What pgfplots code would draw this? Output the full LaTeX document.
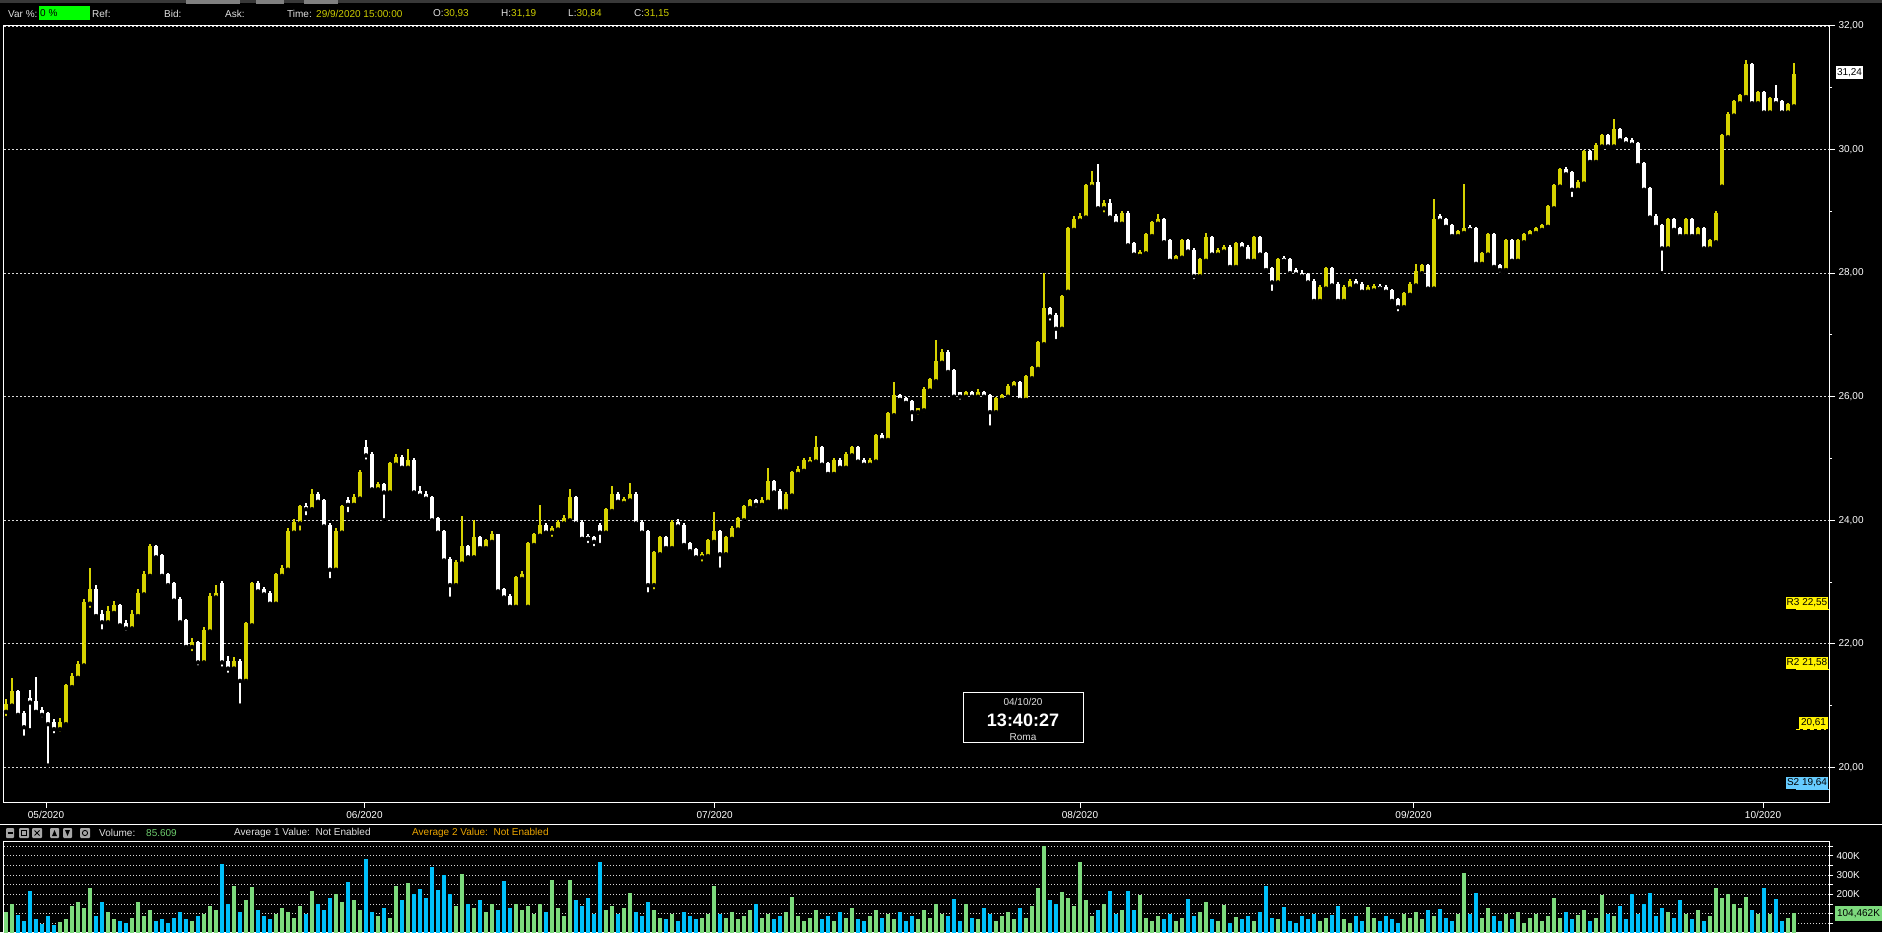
\documentclass[border=0pt]{standalone}
\usepackage{pgfplots}
\pgfplotsset{compat=1.18}
\usepackage{pgfplotstable}
\usepackage{fontspec}
\setmainfont{Liberation Sans}
\definecolor{cyel}{RGB}{214,210,0}
\definecolor{vgreen}{RGB}{125,218,125}
\definecolor{vcyan}{RGB}{0,192,250}
\definecolor{lblue}{RGB}{102,204,255}
\definecolor{hdryel}{RGB}{205,205,0}
\definecolor{avgtwo}{RGB}{235,165,0}
\definecolor{vtxt}{RGB}{110,205,110}
\definecolor{ltxt}{RGB}{225,225,225}
\pgfplotstableread{
x o h l c v
6 20.90 21.10 20.80 21.00 110
12 21.00 21.45 20.95 21.20 150
18 21.20 21.25 20.80 20.85 95
24 20.85 20.92 20.48 20.65 60
30 21.10 21.25 20.60 21.05 218
36 21.05 21.46 20.85 20.90 70
42 20.90 20.98 20.78 20.85 45
48 20.85 20.90 20.03 20.70 90
54 20.70 20.78 20.52 20.62 40
60 20.62 20.80 20.55 20.70 55
66 20.70 21.35 20.65 21.30 75
72 21.30 21.52 21.25 21.45 140
78 21.45 21.72 21.40 21.65 160
84 21.65 22.72 21.60 22.65 130
90 22.65 23.22 22.55 22.85 233
96 22.85 22.95 22.40 22.45 90
102 22.45 22.55 22.20 22.35 160
108 22.35 22.62 22.30 22.50 110
114 22.50 22.70 22.45 22.60 70
120 22.60 22.65 22.25 22.30 60
126 22.30 22.38 22.18 22.25 50
132 22.25 22.55 22.20 22.45 80
138 22.45 22.88 22.40 22.80 160
144 22.80 23.18 22.75 23.10 90
150 23.10 23.62 23.05 23.55 120
156 23.55 23.60 23.35 23.40 60
162 23.40 23.45 23.05 23.10 70
168 23.10 23.15 22.90 22.95 50
174 22.95 23.00 22.65 22.70 80
180 22.70 22.75 22.30 22.35 110
186 22.35 22.40 21.90 21.95 70
192 21.95 22.10 21.85 22.00 60
198 22.00 22.05 21.62 21.70 90
204 21.70 22.28 21.65 22.20 100
210 22.20 22.82 22.15 22.75 140
216 22.75 22.95 22.70 22.80 120
222 22.95 23.02 21.60 21.70 357
228 21.70 21.80 21.50 21.60 150
234 21.60 21.78 21.55 21.70 243
240 21.70 21.75 21.00 21.40 110
246 21.40 22.35 21.35 22.30 170
252 22.30 23.00 22.25 22.95 240
258 22.95 23.02 22.80 22.85 120
264 22.85 22.92 22.75 22.80 90
270 22.80 22.85 22.60 22.65 70
276 22.65 23.15 22.60 23.10 100
282 23.10 23.28 23.05 23.20 130
288 23.20 23.88 23.15 23.80 110
294 23.80 24.02 23.75 23.95 80
300 23.95 24.25 23.80 24.20 140
306 24.20 24.28 24.05 24.18 100
312 24.18 24.50 24.15 24.40 218
318 24.40 24.45 24.25 24.30 150
324 24.30 24.35 23.85 23.90 120
330 23.90 23.95 23.03 23.20 180
336 23.20 23.88 23.15 23.80 200
342 23.80 24.25 23.75 24.20 160
348 24.30 24.38 24.10 24.25 263
354 24.25 24.42 24.20 24.35 170
360 24.35 24.82 24.30 24.75 120
366 25.15 25.30 24.95 25.05 383
372 25.05 25.10 24.45 24.50 110
378 24.50 24.62 24.45 24.55 90
384 24.55 24.60 24.00 24.45 130
390 24.45 24.95 24.40 24.90 80
396 24.90 25.08 24.85 25.00 243
402 25.00 25.05 24.80 24.85 170
408 24.85 25.15 24.80 24.95 259
414 24.95 25.00 24.40 24.45 200
420 24.45 24.55 24.35 24.40 230
426 24.40 24.48 24.30 24.35 180
432 24.35 24.40 23.95 24.00 342
438 24.00 24.05 23.75 23.80 220
444 23.80 23.85 23.30 23.35 300
450 23.35 23.40 22.73 22.95 200
456 22.95 23.35 22.90 23.30 140
462 23.30 24.07 23.25 23.55 305
468 23.55 23.60 23.35 23.40 150
474 23.40 24.00 23.35 23.70 130
480 23.70 23.75 23.50 23.55 170
486 23.55 23.70 23.50 23.65 110
492 23.65 23.82 23.60 23.75 150
498 23.75 23.78 22.80 22.85 120
504 22.85 22.90 22.70 22.75 268
510 22.75 22.80 22.54 22.60 130
516 22.60 23.10 22.55 23.05 150
522 23.05 23.18 23.00 23.10 120
528 22.60 23.65 22.55 23.60 140
534 23.60 23.80 23.55 23.75 100
540 23.75 24.25 23.70 23.90 150
546 23.90 23.95 23.75 23.80 110
552 23.80 23.90 23.70 23.85 276
558 23.85 24.00 23.80 23.95 130
564 23.95 24.08 23.90 24.00 90
570 24.00 24.50 23.95 24.35 272
576 24.35 24.40 23.90 23.95 170
582 23.95 24.00 23.65 23.70 140
588 23.72 23.78 23.60 23.70 180
594 23.70 23.75 23.55 23.65 100
600 23.90 23.95 23.60 23.80 368
606 23.80 24.20 23.75 24.15 120
612 24.15 24.55 24.10 24.40 140
618 24.40 24.45 24.25 24.30 100
624 24.28 24.38 24.22 24.32 130
630 24.32 24.60 24.28 24.40 207
636 24.40 24.45 23.90 23.95 110
642 23.95 24.00 23.75 23.80 90
648 23.80 23.85 22.80 22.95 160
654 22.95 23.50 22.85 23.45 120
660 23.45 23.75 23.40 23.70 80
666 23.70 23.75 23.50 23.55 70
672 23.55 24.00 23.50 23.95 100
678 23.95 24.02 23.85 23.90 60
684 23.90 23.95 23.55 23.60 110
690 23.60 23.65 23.45 23.50 90
696 23.50 23.55 23.35 23.40 70
702 23.40 23.48 23.30 23.42 80
708 23.42 23.70 23.38 23.65 100
714 23.65 24.14 23.60 23.80 245
720 23.80 23.85 23.20 23.45 100
726 23.45 23.75 23.40 23.70 80
732 23.70 23.90 23.65 23.85 110
738 23.85 24.05 23.80 24.00 70
744 24.00 24.25 23.95 24.20 90
750 24.20 24.35 24.15 24.30 120
756 24.30 24.35 24.18 24.25 150
762 24.25 24.38 24.20 24.30 80
768 24.30 24.85 24.25 24.60 100
774 24.60 24.65 24.40 24.45 70
780 24.45 24.50 24.10 24.15 90
786 24.15 24.45 24.10 24.40 110
792 24.40 24.80 24.35 24.75 188
798 24.75 24.88 24.70 24.80 90
804 24.80 25.00 24.75 24.95 60
810 24.92 25.02 24.88 24.95 80
816 24.95 25.36 24.90 25.15 120
822 25.15 25.20 24.85 24.90 70
828 24.90 24.95 24.70 24.75 90
834 24.75 25.00 24.70 24.95 60
840 24.95 25.00 24.80 24.85 110
846 24.85 25.10 24.80 25.05 80
852 25.05 25.20 25.00 25.15 130
858 25.15 25.20 24.90 24.95 70
864 24.95 25.00 24.85 24.90 60
870 24.90 25.00 24.85 24.95 90
876 24.95 25.40 24.90 25.35 120
882 25.35 25.42 25.25 25.30 80
888 25.30 25.75 25.25 25.70 100
894 25.70 26.23 25.65 26.00 70
900 26.00 26.05 25.90 25.95 110
906 25.95 26.00 25.85 25.90 60
912 25.90 25.95 25.57 25.75 90
918 25.75 25.82 25.68 25.78 70
924 25.78 26.15 25.72 26.10 120
930 26.10 26.30 26.05 26.25 80
936 26.25 26.92 26.20 26.55 150
942 26.55 26.78 26.50 26.70 100
948 26.70 26.75 26.35 26.40 90
954 26.40 26.45 25.95 26.00 176
960 26.05 26.08 25.92 26.00 60
966 26.00 26.10 25.95 26.05 150
972 26.05 26.10 25.95 26.00 80
978 26.00 26.12 25.95 26.05 70
984 26.05 26.10 25.95 26.00 130
990 26.00 26.05 25.50 25.75 100
996 25.75 26.00 25.70 25.95 60
1002 25.95 26.05 25.90 26.00 90
1008 26.00 26.20 25.95 26.15 110
1014 26.15 26.25 26.10 26.20 70
1020 26.20 26.25 25.90 25.95 130
1026 25.95 26.35 25.90 26.30 80
1032 26.30 26.50 26.25 26.45 140
1038 26.45 26.90 26.40 26.85 233
1044 26.85 28.00 26.80 27.40 451
1050 27.40 27.45 27.20 27.30 170
1056 27.30 27.35 26.90 27.10 150
1062 27.10 27.65 27.05 27.60 213
1068 27.70 28.75 27.65 28.70 180
1074 28.70 28.92 28.65 28.85 140
1080 28.85 28.98 28.80 28.90 368
1086 28.90 29.45 28.85 29.40 170
1092 29.40 29.65 29.35 29.45 90
1098 29.45 29.76 29.00 29.05 120
1104 29.05 29.18 28.95 29.10 150
1110 29.10 29.20 28.85 28.90 218
1116 28.90 28.95 28.75 28.80 100
1122 28.80 29.00 28.75 28.95 120
1128 28.95 29.00 28.40 28.45 218
1134 28.45 28.50 28.25 28.30 120
1140 28.28 28.38 28.22 28.32 197
1146 28.32 28.65 28.28 28.60 80
1152 28.60 28.85 28.55 28.80 60
1158 28.80 28.95 28.75 28.85 90
1164 28.85 28.90 28.45 28.50 70
1170 28.50 28.55 28.15 28.20 100
1176 28.20 28.30 28.15 28.25 60
1182 28.25 28.55 28.20 28.50 80
1188 28.50 28.55 28.30 28.35 176
1194 28.35 28.40 27.87 27.95 90
1200 27.95 28.25 27.90 28.20 110
1206 28.20 28.65 28.15 28.55 162
1212 28.55 28.60 28.25 28.30 70
1218 28.30 28.40 28.25 28.35 60
1224 28.35 28.45 28.30 28.40 145
1230 28.40 28.45 28.05 28.10 50
1236 28.10 28.50 28.05 28.45 85
1242 28.45 28.50 28.35 28.40 70
1248 28.40 28.45 28.15 28.20 90
1254 28.20 28.60 28.15 28.55 60
1260 28.55 28.60 28.25 28.30 110
1266 28.30 28.35 28.00 28.05 245
1272 28.05 28.10 27.68 27.85 80
1278 27.85 28.25 27.80 28.20 70
1284 28.22 28.28 28.15 28.20 135
1290 28.20 28.25 27.95 28.00 60
1296 28.02 28.08 27.95 27.98 50
1302 27.98 28.05 27.90 27.95 90
1308 27.95 28.00 27.80 27.85 70
1314 27.85 27.90 27.50 27.55 100
1320 27.55 27.80 27.50 27.75 60
1326 27.75 28.10 27.70 28.05 80
1332 28.05 28.10 27.75 27.80 95
1338 27.80 27.85 27.50 27.55 140
1344 27.55 27.80 27.50 27.75 70
1350 27.75 27.90 27.70 27.85 50
1356 27.85 27.90 27.75 27.80 90
1362 27.80 27.85 27.65 27.70 60
1368 27.70 27.80 27.65 27.75 135
1374 27.72 27.82 27.70 27.76 80
1380 27.76 27.82 27.70 27.75 60
1386 27.75 27.80 27.65 27.70 90
1392 27.70 27.75 27.50 27.55 70
1398 27.55 27.60 27.35 27.45 50
1404 27.45 27.70 27.40 27.65 100
1410 27.65 27.85 27.60 27.80 80
1416 27.80 28.15 27.75 28.00 110
1422 28.00 28.15 27.95 28.10 70
1428 28.10 28.15 27.70 27.75 120
1434 27.75 29.20 27.70 28.85 90
1440 28.90 28.95 28.80 28.85 125
1446 28.85 28.90 28.70 28.75 80
1452 28.75 28.80 28.55 28.60 60
1458 28.60 28.70 28.55 28.65 100
1464 28.65 29.45 28.60 28.70 312
1470 28.72 28.78 28.65 28.70 100
1476 28.70 28.75 28.10 28.15 207
1482 28.15 28.35 28.10 28.30 80
1488 28.30 28.65 28.25 28.60 130
1494 28.60 28.65 28.05 28.10 90
1500 28.10 28.15 27.98 28.05 60
1506 28.05 28.55 28.00 28.50 100
1512 28.50 28.55 28.15 28.20 70
1518 28.20 28.55 28.15 28.50 110
1524 28.50 28.65 28.45 28.60 50
1530 28.60 28.70 28.55 28.65 80
1536 28.65 28.75 28.60 28.70 100
1542 28.70 28.80 28.65 28.75 60
1548 28.75 29.10 28.70 29.05 90
1554 29.05 29.45 29.00 29.40 179
1560 29.40 29.70 29.35 29.65 80
1566 29.65 29.72 29.55 29.60 110
1572 29.60 29.65 29.20 29.35 70
1578 29.35 29.50 29.30 29.45 95
1584 29.45 30.00 29.40 29.95 120
1590 29.95 30.00 29.75 29.80 60
1596 29.80 30.10 29.75 30.05 80
1602 30.05 30.25 30.00 30.20 197
1608 30.20 30.25 30.00 30.05 100
1614 30.05 30.50 30.00 30.30 90
1620 30.30 30.35 30.10 30.15 140
1626 30.15 30.20 30.05 30.10 70
1632 30.12 30.18 30.02 30.08 204
1638 30.08 30.12 29.70 29.75 100
1644 29.75 29.80 29.30 29.35 150
1650 29.35 29.40 28.85 28.90 207
1656 28.90 28.95 28.70 28.75 90
1662 28.75 28.80 28.00 28.40 130
1668 28.40 28.90 28.35 28.85 110
1674 28.85 28.90 28.65 28.70 80
1680 28.70 28.75 28.55 28.60 169
1686 28.60 28.90 28.55 28.85 100
1692 28.85 28.90 28.55 28.60 70
1698 28.60 28.75 28.55 28.70 120
1704 28.70 28.75 28.35 28.40 60
1710 28.40 28.55 28.35 28.50 90
1716 28.50 29.00 28.45 28.95 233
1722 29.40 30.25 29.35 30.20 180
1728 30.20 30.60 30.15 30.55 204
1734 30.55 30.80 30.50 30.75 150
1740 30.75 30.90 30.70 30.85 130
1746 30.85 31.45 30.80 31.35 186
1752 31.35 31.40 30.70 30.75 120
1758 30.75 30.95 30.70 30.90 100
1764 30.90 30.95 30.55 30.60 233
1770 30.60 30.85 30.55 30.80 100
1776 30.80 31.05 30.70 30.75 176
1782 30.75 30.80 30.55 30.60 60
1788 30.60 30.75 30.55 30.70 80
1794 30.70 31.40 30.65 31.20 104
}\candles
\begin{document}
\begin{tikzpicture}[font=\fontsize{10}{12}\selectfont]
\useasboundingbox (0,0) rectangle (1882pt,932pt);
\fill[black] (0,0) rectangle (1882pt,932pt);

% ---------- price panel ----------
\begin{axis}[
  at={(4pt,130pt)}, anchor=south west,
  scale only axis, width=1825pt, height=776pt,
  xmin=4, xmax=1829, ymin=19.44, ymax=32,
  axis line style={white, line width=1pt},
  xtick={46,364.5,714.7,1080,1413.5,1763},
  xticklabels={05/2020,06/2020,07/2020,08/2020,09/2020,10/2020},
  ytick={20,22,...,32}, minor ytick={21,23,...,31},
  xtick pos=left, ytick pos=right, yticklabel pos=right,
  tick align=outside, major tick length=6pt, minor tick length=3pt,
  tick style={white, line width=1pt},
  ymajorgrids,
  major grid style={white!85!black, dash pattern=on 2pt off 2pt, line width=0.8pt},
  ticklabel style={text=white, font=\fontsize{10}{12}\selectfont},
  /pgf/number format/fixed, /pgf/number format/fixed zerofill,
  /pgf/number format/precision=2, /pgf/number format/use comma,
  /pgf/number format/assume math mode=true,
]
% down candles (white)
\addplot[only marks, mark=none, error bars/.cd, y dir=plus, y explicit, error mark=none,
  error bar style={draw=white, line width=1.4pt}]
  table[x expr={\thisrow{c}<\thisrow{o} ? \thisrow{x} : nan}, y=l,
        y error expr={\thisrow{h}-\thisrow{l}}] {\candles};
\addplot[only marks, mark=none, error bars/.cd, y dir=plus, y explicit, error mark=none,
  error bar style={draw=white, line width=4.6pt}]
  table[x expr={\thisrow{c}<\thisrow{o} ? \thisrow{x} : nan}, y=c,
        y error expr={\thisrow{o}-\thisrow{c}+0.03}] {\candles};
% up candles (yellow)
\addplot[only marks, mark=none, error bars/.cd, y dir=plus, y explicit, error mark=none,
  error bar style={draw=cyel, line width=1.4pt}]
  table[x expr={\thisrow{c}<\thisrow{o} ? nan : \thisrow{x}}, y=l,
        y error expr={\thisrow{h}-\thisrow{l}}] {\candles};
\addplot[only marks, mark=none, error bars/.cd, y dir=plus, y explicit, error mark=none,
  error bar style={draw=cyel, line width=4.6pt}]
  table[x expr={\thisrow{c}<\thisrow{o} ? nan : \thisrow{x}}, y=o,
        y error expr={\thisrow{c}-\thisrow{o}+0.03}] {\candles};
\end{axis}

% ---------- volume panel ----------
\begin{axis}[
  at={(4pt,-1pt)}, anchor=south west,
  scale only axis, width=1825pt, height=91pt,
  xmin=4, xmax=1829, ymin=0, ymax=471,
  axis line style={white, line width=1pt},
  xtick=\empty,
  ytick={50,100,...,450}, yticklabels={,,,200K,,300K,,400K,},
  ytick pos=right, yticklabel pos=right,
  tick align=outside, major tick length=4pt,
  tick style={white, line width=1pt},
  ymajorgrids,
  major grid style={white!85!black, dash pattern=on 1pt off 2pt, line width=0.7pt},
  ticklabel style={text=white, font=\fontsize{10}{12}\selectfont},
]
\addplot[ycomb, draw=vgreen, line width=4.4pt]
  table[x expr={\thisrow{c}<\thisrow{o} ? nan : \thisrow{x}}, y=v] {\candles};
\addplot[ycomb, draw=vcyan, line width=4.4pt]
  table[x expr={\thisrow{c}<\thisrow{o} ? \thisrow{x} : nan}, y=v] {\candles};
\end{axis}

% ---------- decorations (reference pixel coordinates, y down) ----------
\begin{scope}[shift={(0pt,932pt)}, x=1pt, y=-1pt]
  % solid top border of the price panel
  \draw[white, line width=1pt] (4,26) -- (1829,26);
  % top strip and tabs
  \fill[black!78] (0,0) rectangle (1882,3);
  \fill[black!50] (186,0) rectangle (240,4);
  \fill[black!50] (256,0) rectangle (284,4);
  \fill[black!50] (304,0) rectangle (338,4);
  % header
  \begin{scope}[every node/.style={anchor=west, inner sep=0pt, text=ltxt}]
    \node at (8,14) {Var \%:};
    \fill[green] (39,6) rectangle (90,20);
    \node[text=black] at (40,13.5) {0 \%};
    \node at (92,14) {Ref:};
    \node at (164,14) {Bid:};
    \node at (225,14) {Ask:};
    \node at (287,14) {Time:};
    \node[text=hdryel] at (316,14) {29/9/2020 15:00:00};
    \node at (433,14) {O:\textcolor{hdryel}{30,93}};
    \node at (501,14) {H:\textcolor{hdryel}{31,19}};
    \node at (568,14) {L:\textcolor{hdryel}{30,84}};
    \node at (634,14) {C:\textcolor{hdryel}{31,15}};
    % volume header
    \node at (99,833) {Volume:};
    \node[text=vtxt] at (146,833) {85.609};
    \node at (234,833) {Average 1 Value:\ \ Not Enabled};
    \node[text=avgtwo] at (412,833) {Average 2 Value:\ \ Not Enabled};
  \end{scope}
  % volume header icons
  \foreach \a/\b in {6/14, 19/29, 32/42, 50/59, 63/72, 80/90}
    {\fill[black!35, rounded corners=1pt] (\a,828) rectangle (\b,838);}
  \draw[black, line width=1.2pt] (7.5,833) -- (12.5,833);
  \draw[black, line width=0.8pt] (21.5,830.5) rectangle (26.5,835.5);
  \draw[black, line width=0.8pt] (34.5,830.5) -- (39.5,835.5) (34.5,835.5) -- (39.5,830.5);
  \fill[black] (52,836) -- (57,836) -- (54.5,830) -- cycle;
  \fill[black] (65,830) -- (70,830) -- (67.5,836) -- cycle;
  \draw[black, line width=0.9pt] (85,833) circle (2.6);
  % separator
  \draw[white, line width=1pt] (0,824) -- (1882,824);
  % last price label
  \fill[white] (1836,66) rectangle (1863,79);
  \node[text=black, inner sep=0pt] at (1849.5,72.5) {31,24};
  % pivot levels
  \fill[yellow] (1786,597) rectangle (1828,609);
  \node[text=black, inner sep=0pt] at (1807,603) {R3 22,55};
  \draw[yellow, line width=1pt] (1796,610) -- (1829,610);
  \fill[yellow] (1786,657) rectangle (1828,669);
  \node[text=black, inner sep=0pt] at (1807,663) {R2 21,58};
  \draw[yellow, line width=1pt] (1796,670) -- (1829,670);
  \fill[yellow] (1799,717) rectangle (1828,729);
  \node[text=black, inner sep=0pt] at (1813.5,723) {20,61};
  \draw[yellow, line width=1pt, dash pattern=on 4pt off 3pt] (1796,730) -- (1826,730);
  \fill[lblue] (1786,777) rectangle (1828,789);
  \node[text=black, inner sep=0pt] at (1807,783) {S2 19,64};
  \draw[lblue, line width=1pt] (1796,790) -- (1829,790);
  % volume last label
  \fill[vgreen] (1835,906) rectangle (1882,921);
  \node[text=black, inner sep=0pt] at (1858.5,913.5) {104,462K};
  % clock box
  \draw[white, fill=black, line width=1pt] (963,693) rectangle (1083,743);
  \node[text=ltxt, inner sep=0pt] at (1023,702) {04/10/20};
  \node[text=white, inner sep=0pt, font=\bfseries\fontsize{18}{20}\selectfont] at (1023,720.5) {13:40:27};
  \node[text=ltxt, inner sep=0pt] at (1023,737.5) {Roma};
\end{scope}
\end{tikzpicture}
\end{document}
